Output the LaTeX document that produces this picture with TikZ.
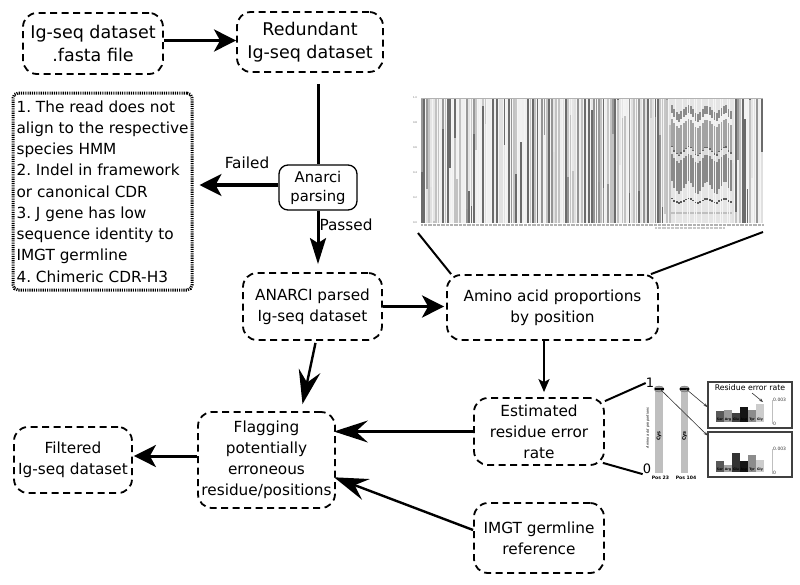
\documentclass[tikz,border=0pt]{standalone}
\usepackage{fontspec}
\setmainfont{DejaVu Sans}
\usetikzlibrary{arrows.meta,calc}
\newcommand{\drawNormalCol}{%
  \pgfmathtruncatemacro{\ga}{{58,42,24,12,6}[int(5*rnd)]}%
  \pgfmathtruncatemacro{\gb}{{58,40,22,10,5}[int(5*rnd)]}%
  \pgfmathsetmacro{\s}{rnd<0.5 ? 0 : 125*rnd}%
  \fill[black!\ga] (\xa,98+\s) rectangle (\xb,223);
  \ifdim\s pt>0pt \fill[black!\gb] (\xa,98) rectangle (\xb,98+\s);\fi
}
\newcommand{\drawCdrCol}{%
  \pgfmathsetmacro{\w}{4*sin(\i*47)+2*rnd}%
  \fill[black!10] (\xa,98) rectangle (\xb,223);
  \fill[black!45] (\xa,108+\w) rectangle (\xb,116+\w);
  \fill[black!6] (\xa,116+\w) rectangle (\xb,122+\w);
  \fill[black!36] (\xa,122+\w) rectangle (\xb,150+\w);
  \fill[black!60] (\xa,149+\w) rectangle (\xb,150.5+\w);
  \fill[black!14] (\xa,150.5+\w) rectangle (\xb,157+\w);
  \fill[black!46] (\xa,157+\w) rectangle (\xb,186+1.5*\w);
  \fill[black!65] (\xa,199.5+\w/2) rectangle (\xb,201+\w/2);
  \fill[black!25] (\xa,212) rectangle (\xb,214);
}
\begin{document}
\begin{tikzpicture}[x=1pt,y=-1pt,
  dbox/.style={draw, line width=1.8pt, dash pattern=on 7pt off 4.5pt, rounded corners=14pt,
    align=center, inner sep=0pt, font=\fontsize{15.3}{21}\selectfont},
  tbox/.style={dbox, font=\fontsize{17.5}{23}\selectfont},
  lbl/.style={font=\fontsize{15.3}{18}\selectfont, inner sep=0pt},
  bigarrow/.style={line width=3.5pt, -{Stealth[length=22pt,width=22pt,inset=6pt]}},
  narrowarrow/.style={line width=3pt, -{Stealth[length=26pt,width=16pt,inset=5pt]}},
  longarrow/.style={line width=2.4pt, -{Stealth[length=34pt,width=22pt,inset=12pt]}},
  smallarrow/.style={line width=2pt, -{Stealth[length=13pt,width=11pt,inset=3pt]}},
  thinline/.style={line width=2pt},
  tinyarrow/.style={line width=0.6pt, black!80, -{Stealth[length=4pt,width=3pt]}},
  barlbl/.style={font=\bfseries\fontsize{3.2}{3.5}\selectfont, inner sep=0pt},
  axlbl/.style={font=\fontsize{4.5}{5}\selectfont, inner sep=0pt, anchor=west, text=black!80},
  panel/.style={draw=black!75, line width=1.1pt}
]
\useasboundingbox (0,0) rectangle (800,584);

% ---- nodes ----
\node[tbox, minimum width=140pt, minimum height=61pt] (A) at (93,43.5) {Ig-seq dataset\\.fasta file};
\node[tbox, minimum width=146pt, minimum height=60pt] (B) at (310,42) {Redundant\\Ig-seq dataset};
\node[draw, line width=1.3pt, rounded corners=9pt, align=center, inner sep=0pt,
  minimum width=78pt, minimum height=45pt, font=\fontsize{14.8}{19}\selectfont] (anarci) at (318,187.5) {Anarci\\parsing};
\node[draw, line width=3pt, dash pattern=on 1.1pt off 1.1pt, rounded corners=5pt,
  inner sep=0pt, minimum width=179pt, minimum height=197pt, align=left,
  font=\frenchspacing\fontsize{15.3}{21.25}\selectfont] (fail) at (102.5,191.5)
  {1. The read does not\\align to the respective\\species HMM\\2. Indel in framework\\or canonical CDR\\3. J gene has low\\sequence identity to\\IMGT germline\\4. Chimeric CDR-H3};
\node[dbox, minimum width=139pt, minimum height=67pt] (parsed) at (312.5,306.5) {ANARCI parsed\\Ig-seq dataset};
\node[dbox, minimum width=211pt, minimum height=65pt] (amino) at (552.5,307.5) {Amino acid proportions\\by position};
\node[dbox, minimum width=130pt, minimum height=67pt] (est) at (539,431.5) {Estimated\\residue error\\rate};
\node[dbox, minimum width=130pt, minimum height=70pt] (imgt) at (539,538) {IMGT germline\\reference};
\node[dbox, minimum width=137pt, minimum height=96pt] (flag) at (266.5,460) {Flagging\\potentially\\erroneous\\residue/positions};
\node[dbox, minimum width=118pt, minimum height=66pt] (filt) at (73,460) {Filtered\\Ig-seq dataset};

% ---- connectors ----
\draw[bigarrow] ([yshift=3pt]A.east) -- ([yshift=3pt]A.east -| B.west);
\draw[line width=3pt, shorten <=11pt] (B.south -| anarci.north) -- (anarci.north);
\draw[bigarrow, line width=3.2pt, shorten >=6pt] ([yshift=2.5pt]anarci.west) -- ([yshift=2.5pt]anarci.west -| fail.east);
\node[lbl] (failed) at (247,163) {Failed};
\draw[narrowarrow, shorten >=8pt] (anarci.south) -- (anarci.south |- parsed.north);
\node[lbl] (passed) at (346,225) {Passed};
\draw[bigarrow, shorten >=2pt] (parsed.east) -- (parsed.east -| amino.west);
\draw[longarrow] ([xshift=3pt,yshift=-2pt]parsed.south) -- ([xshift=36pt,yshift=7pt]flag.north);
\draw[smallarrow] ([xshift=5pt]est.north |- amino.south) -- ([xshift=5pt,yshift=5pt]est.north);
\draw[longarrow, shorten >=-2pt] (est.west) -- (est.west -| flag.east);
\draw[longarrow, shorten >=-2pt] ([yshift=8pt]imgt.west) -- ([yshift=-18pt]flag.east);
\draw[bigarrow, line width=3pt, shorten >=1pt] ([yshift=4pt]flag.west) -- ([yshift=4pt]flag.west -| filt.east);

% ---- big chart ----
\pgfmathsetseed{23}
\fill[black!4] (421,98) rectangle (763,223);
\foreach \i in {0,...,144}{
  \pgfmathsetmacro{\xa}{421+\i*2.359}
  \pgfmathsetmacro{\xb}{\xa+1.8}
  \pgfmathtruncatemacro{\cdr}{and(\i>105,\i<132)}
  \ifnum\cdr=1 \drawCdrCol\else\drawNormalCol\fi
}
\draw[black!30, line width=0.4pt] (421,98) -- (763,98);
\draw[black!30, line width=2pt, dash pattern=on 0.8pt off 0.5pt] (421,225) -- (763,225);
\draw[black!22, line width=1.5pt, dash pattern=on 0.8pt off 0.5pt] (655,228) -- (725,228);
\foreach \v [count=\k from 0] in {1.0,0.8,0.6,0.4,0.2,0.0}
  \node[font=\fontsize{2.5}{3}\selectfont, text=black!60, inner sep=0pt] (yt\k) at (415,98+\k*25) {\v};
\coordinate (chartBL) at (418,233);
\coordinate (chartBR) at (763,232);
\draw[thinline] (chartBL) -- ([xshift=5pt]amino.north west);
\draw[thinline] (chartBR) -- ([xshift=-8pt]amino.north east);

% ---- small inset ----
\node[font=\fontsize{13}{14}\selectfont, inner sep=0pt] (one) at (650,383) {1};
\node[font=\fontsize{13}{14}\selectfont, inner sep=0pt] (zero) at (647,469) {0};
\draw[thinline] ([yshift=-4pt]est.north east) -- (one.west);
\draw[thinline] ([xshift=-2pt,yshift=3pt]est.south east) -- (zero.south west);
\node[rotate=90, font=\itshape\fontsize{3.5}{4}\selectfont, inner sep=0pt] (ylab) at (648,428) {Amino acid proportions};
\fill[black!25] (655,388) rectangle (663,473);
\fill[black!25] (681,388) rectangle (688,473);
\node[rotate=90, font=\bfseries\fontsize{5}{5}\selectfont, inner sep=0pt] (cys1) at (659,436) {Cys};
\node[rotate=90, font=\bfseries\fontsize{5}{5}\selectfont, inner sep=0pt] (cys2) at (684.5,436) {Cys};
\filldraw[fill=black!40, draw=black!55, line width=0.4pt] (659,389) ellipse [x radius=5pt, y radius=3pt];
\filldraw[fill=black!40, draw=black!55, line width=0.4pt] (684.5,389) ellipse [x radius=5pt, y radius=3pt];
\draw[line width=1.1pt] (654.5,389) -- (663.5,389);
\draw[line width=1.1pt] (680,389) -- (689,389);
\coordinate (e1) at (660,389);
\coordinate (e2) at (686,389);
\node[barlbl, font=\bfseries\fontsize{4.6}{5}\selectfont] (p23) at (660.5,478) {Pos 23};
\node[barlbl, font=\bfseries\fontsize{4.6}{5}\selectfont] (p104) at (686,478) {Pos 104};

% panel 1
\node[panel, minimum width=84pt, minimum height=46pt, inner sep=0pt] (pan1) at (750,405) {};
\node[font=\fontsize{7.8}{8}\selectfont, inner sep=0pt] (ttl) at (750,388) {Residue error rate};
\foreach \t/\c/\l [count=\k from 0] in {411/65/Ser,410/40/Arg,413/75/Glu,407/92/Asp,410/45/Tyr,404/20/Gly}{
  \fill[black!\c] (716+\k*8,\t) rectangle (724+\k*8,422);
  \node[barlbl] at (720+\k*8,419.5) {\l};
}
\draw[black!25, line width=0.6pt] (772,400) -- (772,424);
\node[axlbl] at (773,400) {0.003};
\node[axlbl] at (773,424) {0};
\draw[tinyarrow] (752,393) -- (763,402);

% panel 2
\node[panel, minimum width=84pt, minimum height=45pt, inner sep=0pt] (pan2) at (750,454.5) {};
\foreach \t/\c/\l [count=\k from 0] in {461/65/Ser,465/35/Arg,453/80/Glu,461/92/Asp,455/45/Tyr,460/20/Gly}{
  \fill[black!\c] (716+\k*8,\t) rectangle (724+\k*8,472);
  \node[barlbl] at (720+\k*8,469.5) {\l};
}
\draw[black!25, line width=0.6pt] (772,449) -- (772,474);
\node[axlbl] at (773,449) {0.003};
\node[axlbl] at (773,473) {0};

\draw[tinyarrow] (e2) -- ([yshift=-2pt]pan1.west);
\draw[tinyarrow] (e1) -- ([yshift=-4pt]pan2.north west);
\end{tikzpicture}
\end{document}
